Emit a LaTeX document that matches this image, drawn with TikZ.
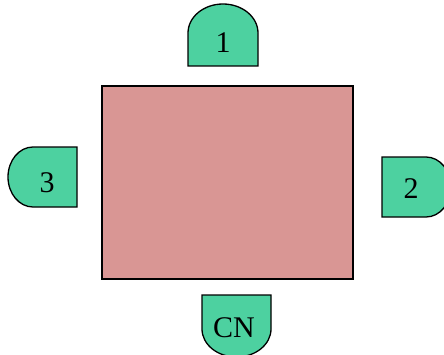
\documentclass[tikz,border=0pt]{standalone}
\usepackage{fontspec}
\setmainfont{Liberation Serif}
\definecolor{tablefill}{HTML}{D99694}
\definecolor{seatfill}{HTML}{4DD1A0}
\begin{document}
\begin{tikzpicture}[x=1pt,y=1pt,
  seat/.style={fill=seatfill,draw=black,line width=1.3pt},
  lbl/.style={inner sep=0pt,font=\fontsize{30}{30}\selectfont}]
\useasboundingbox (0,0) rectangle (444,354);
\clip (0,0) rectangle (444,354);
% table
\draw[fill=tablefill,draw=black,line width=1.8pt] (102,75) rectangle (353,268);
% seat 1 (top)
\draw[seat] (188,288) -- (188,321) arc[start angle=180,end angle=0,x radius=35,y radius=29] -- (258,288) -- cycle;
\node[lbl] (s1) at (223,311) {1};
% seat 3 (left)
\draw[seat] (77,207) -- (33,207) arc[start angle=90,end angle=270,x radius=25,y radius=30] -- (77,147) -- cycle;
\node[lbl] (s3) at (47,171) {3};
% seat 2 (right)
\draw[seat] (382,197) -- (426,197) arc[start angle=90,end angle=-90,x radius=25,y radius=30] -- (382,137) -- cycle;
\node[lbl] (s2) at (411,165) {2};
% seat CN (bottom)
\draw[seat] (202,59) -- (202,25) arc[start angle=180,end angle=360,x radius=34.5,y radius=28] -- (271,59) -- cycle;
\node[lbl] (scn) at (234,26) {CN};
\end{tikzpicture}
\end{document}
